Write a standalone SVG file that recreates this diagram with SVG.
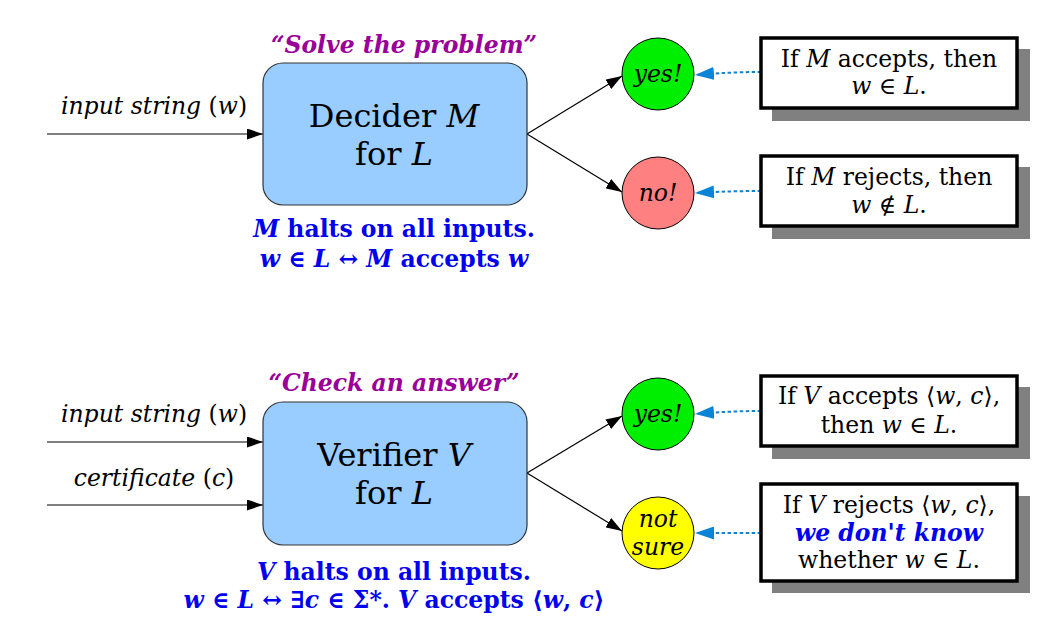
<svg xmlns="http://www.w3.org/2000/svg" width="1038" height="629" viewBox="0 0 1038 629">
<defs>
<style>
text{font-family:"DejaVu Serif","Liberation Serif",serif;text-anchor:middle;fill:#000}
.i{font-style:italic}
.u{font-style:normal}
.box{fill:#99ccff;stroke:#333;stroke-width:1.2}
.big{font-size:32px}
.lbl{font-size:23.5px;font-style:italic}
.quote{font-size:23.5px;font-weight:bold;font-style:italic;fill:#990099}
.blue{font-size:23.5px;font-weight:bold;fill:#0000ee}
.note{fill:#fff;stroke:#000;stroke-width:3.5}
.shadow{fill:#808080}
.nt{font-size:23.5px}
.circ{stroke:#000;stroke-width:1}
.ct{font-size:23.5px;font-style:italic}
.arr{stroke:#000;stroke-width:1.2;fill:none;marker-end:url(#ah)}
.dot{stroke:#0a84d6;stroke-width:2;stroke-dasharray:3.5,2.5;fill:none;marker-end:url(#bh)}
</style>
<marker id="ah" viewBox="0 0 10 10" refX="10" refY="5" markerWidth="16" markerHeight="11" markerUnits="userSpaceOnUse" orient="auto" preserveAspectRatio="none"><path d="M0,0 L10,5 L0,10 z" fill="#000"/></marker>
<marker id="bh" viewBox="0 0 10 10" refX="10" refY="5" markerWidth="19" markerHeight="13" markerUnits="userSpaceOnUse" orient="auto" preserveAspectRatio="none"><path d="M0,0 L10,5 L0,10 z" fill="#0a84d6"/></marker>
</defs>
<rect width="1038" height="629" fill="#fff"/>

<g id="connectors">
<line class="arr" x1="47" y1="134" x2="263" y2="134"/>
<line class="arr" x1="527" y1="134" x2="622" y2="76"/>
<line class="arr" x1="527" y1="134" x2="622" y2="192"/>
<path class="dot" d="M761,72 Q730,72 695,75"/>
<path class="dot" d="M761,191 Q730,191 695,193"/>
<line class="arr" x1="47" y1="442" x2="263" y2="442"/>
<line class="arr" x1="47" y1="505" x2="263" y2="505"/>
<line class="arr" x1="527" y1="473" x2="622" y2="416"/>
<line class="arr" x1="527" y1="473" x2="622" y2="531"/>
<path class="dot" d="M761,411 Q730,411 695,414"/>
<path class="dot" d="M761,533 Q730,533 695,533"/>
</g>

<g id="decider-labels">
<text class="lbl" x="154" y="114">input string <tspan class="u">(</tspan>w<tspan class="u">)</tspan></text>
<text class="quote" x="404" y="53">“Solve the problem”</text>
</g>
<g id="decider">
<rect class="box" x="263" y="63" width="264" height="142" rx="20"/>
<text class="big" x="394" y="127">Decider <tspan class="i">M</tspan></text>
<text class="big" x="394" y="165">for <tspan class="i">L</tspan></text>
</g>
<g id="decider-notes">
<text class="blue" x="394" y="237"><tspan class="i">M</tspan> halts on all inputs.</text>
<text class="blue" x="394" y="267"><tspan class="i">w</tspan> ∈ <tspan class="i">L</tspan> ↔ <tspan class="i">M</tspan> accepts <tspan class="i">w</tspan></text>
</g>
<g id="yes1">
<circle class="circ" cx="658" cy="74" r="36" fill="#00ee00"/>
<text class="ct" x="658" y="82">yes!</text>
</g>
<g id="no1">
<circle class="circ" cx="658" cy="193" r="36" fill="#ff8080"/>
<text class="ct" x="658" y="201">no!</text>
</g>
<g id="note1">
<rect class="shadow" x="772" y="49" width="258" height="72"/>
<rect class="note" x="761" y="38" width="256" height="70"/>
<text class="nt" x="889" y="67">If <tspan class="i">M</tspan> accepts, then</text>
<text class="nt" x="889" y="94"><tspan class="i">w</tspan> ∈ <tspan class="i">L</tspan>.</text>
</g>
<g id="note2">
<rect class="shadow" x="772" y="167" width="258" height="72"/>
<rect class="note" x="761" y="156" width="256" height="70"/>
<text class="nt" x="889" y="185">If <tspan class="i">M</tspan> rejects, then</text>
<text class="nt" x="889" y="213"><tspan class="i">w</tspan> ∉ <tspan class="i">L</tspan>.</text>
</g>

<g id="verifier-labels">
<text class="lbl" x="154" y="422">input string <tspan class="u">(</tspan>w<tspan class="u">)</tspan></text>
<text class="lbl" x="154" y="486">certificate <tspan class="u">(</tspan>c<tspan class="u">)</tspan></text>
<text class="quote" x="394" y="391">“Check an answer”</text>
</g>
<g id="verifier">
<rect class="box" x="263" y="402" width="264" height="143" rx="20"/>
<text class="big" x="394" y="466">Verifier <tspan class="i">V</tspan></text>
<text class="big" x="394" y="504">for <tspan class="i">L</tspan></text>
</g>
<g id="verifier-notes">
<text class="blue" x="394" y="580"><tspan class="i">V</tspan> halts on all inputs.</text>
<text class="blue" x="394" y="608"><tspan class="i">w</tspan> ∈ <tspan class="i">L</tspan> ↔ ∃<tspan class="i">c</tspan> ∈ Σ*. <tspan class="i">V</tspan> accepts ⟨<tspan class="i">w</tspan>, <tspan class="i">c</tspan>⟩</text>
</g>
<g id="yes2">
<circle class="circ" cx="658" cy="414" r="36" fill="#00ee00"/>
<text class="ct" x="658" y="422">yes!</text>
</g>
<g id="notsure">
<circle class="circ" cx="658" cy="533" r="36" fill="#ffff00"/>
<text class="ct" x="658" y="527">not</text>
<text class="ct" x="658" y="555">sure</text>
</g>
<g id="note3">
<rect class="shadow" x="772" y="387" width="258" height="72"/>
<rect class="note" x="761" y="376" width="256" height="70"/>
<text class="nt" x="889" y="404">If <tspan class="i">V</tspan> accepts ⟨<tspan class="i">w</tspan>, <tspan class="i">c</tspan>⟩,</text>
<text class="nt" x="889" y="433">then <tspan class="i">w</tspan> ∈ <tspan class="i">L</tspan>.</text>
</g>
<g id="note4">
<rect class="shadow" x="772" y="496" width="258" height="97"/>
<rect class="note" x="761" y="484" width="256" height="97"/>
<text class="nt" x="889" y="513">If <tspan class="i">V</tspan> rejects ⟨<tspan class="i">w</tspan>, <tspan class="i">c</tspan>⟩,</text>
<text class="nt" x="889" y="541" style="font-weight:bold;font-style:italic;fill:#0000ee">we don't know</text>
<text class="nt" x="889" y="568">whether <tspan class="i">w</tspan> ∈ <tspan class="i">L</tspan>.</text>
</g>
</svg>
